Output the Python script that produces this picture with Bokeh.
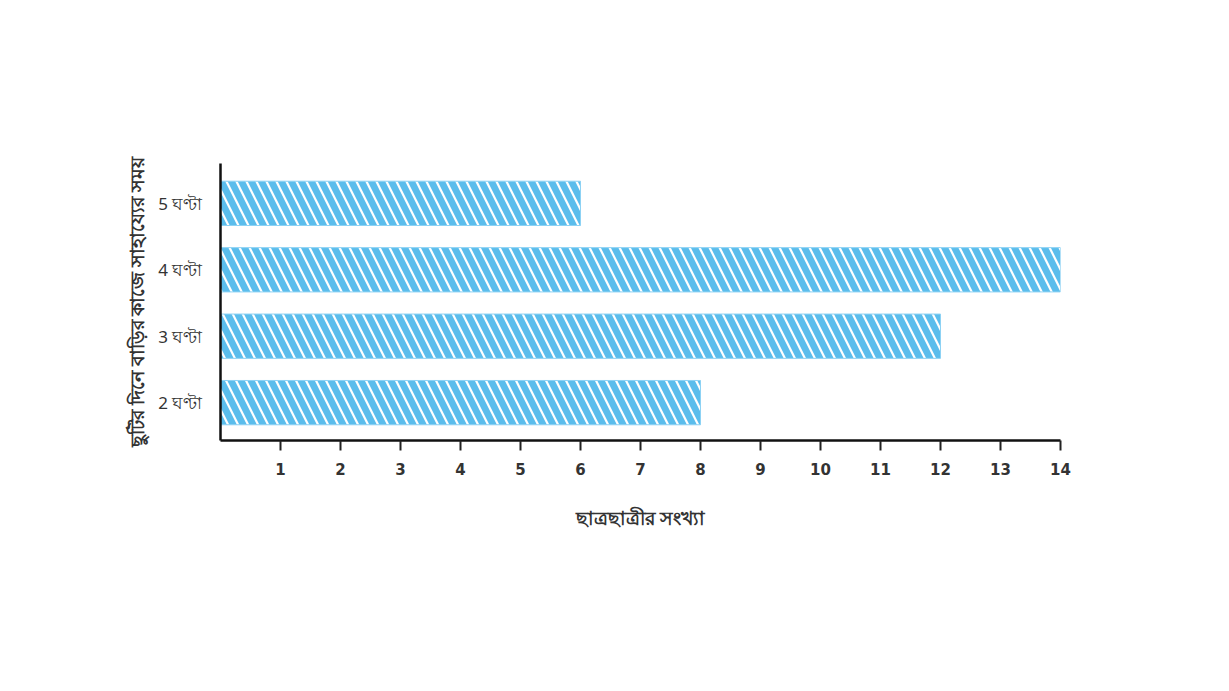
from bokeh.plotting import figure
from bokeh.models import FixedTicker, Range1d, ColumnDataSource
from bokeh.embed import file_html
from bokeh.resources import INLINE

categories = ["2 ঘণ্টা", "3 ঘণ্টা", "4 ঘণ্টা", "5 ঘণ্টা"]
positions = [2, 3, 4, 5]
students = [8, 12, 14, 6]
x_ticks = list(range(1, 15))
x_label = "ছাত্রছাত্রীর সংখ্যা"
y_label = "ছুটির দিনে বাড়ির কাজে সাহায্যের সময়"

src = ColumnDataSource(dict(y=positions, right=students, cat=categories))

p = figure(width=1213, height=675, output_backend="svg", toolbar_location=None,
           x_range=Range1d(0, 14), y_range=Range1d(1.43, 5.6),
           min_border_left=220, min_border_right=153, min_border_top=163, min_border_bottom=235)
p.hbar(y="y", right="right", left=0, height=0.667, source=src,
       fill_color="#5bbdec", line_color=None)
p.hbar(y="y", right="right", left=0, height=0.667, source=src,
       fill_alpha=0, line_color="#8dd2f4", line_width=1,
       hatch_pattern="left_diagonal_line", hatch_color="white", hatch_scale=20, hatch_weight=2.2)

p.grid.visible = False
p.outline_line_color = None
p.background_fill_color = "white"
p.border_fill_color = "white"

xa = p.xaxis[0]
xa.ticker = FixedTicker(ticks=x_ticks)
xa.minor_tick_line_color = None
xa.major_tick_out = 10
xa.major_tick_in = 0
xa.major_tick_line_width = 2
xa.major_tick_line_color = "#222222"
xa.axis_line_width = 2.5
xa.axis_line_color = "#111111"
xa.major_label_text_font = "DejaVu Sans"
xa.major_label_text_font_style = "bold"
xa.major_label_text_font_size = "15px"
xa.major_label_text_color = "#333333"
xa.major_label_standoff = 12
xa.axis_label = x_label
xa.axis_label_text_font = "Noto Sans"
xa.axis_label_text_font_style = "bold"
xa.axis_label_text_font_size = "18.5px"
xa.axis_label_text_color = "#333333"
xa.axis_label_standoff = 27

ya = p.yaxis[0]
ya.ticker = FixedTicker(ticks=positions)
ya.major_label_overrides = {pv: c for pv, c in zip(positions, categories)}
ya.minor_tick_line_color = None
ya.major_tick_line_color = None
ya.axis_line_width = 2.5
ya.axis_line_color = "#111111"
ya.major_label_text_font = "Noto Sans"
ya.major_label_text_font_size = "17px"
ya.major_label_text_color = "#333333"
ya.major_label_standoff = 12
ya.axis_label = y_label
ya.axis_label_text_font = "Noto Sans"
ya.axis_label_text_font_style = "bold"
ya.axis_label_text_font_size = "18.5px"
ya.axis_label_text_color = "#333333"
ya.axis_label_standoff = 6

open("out.html", "w").write(file_html(p, INLINE))
